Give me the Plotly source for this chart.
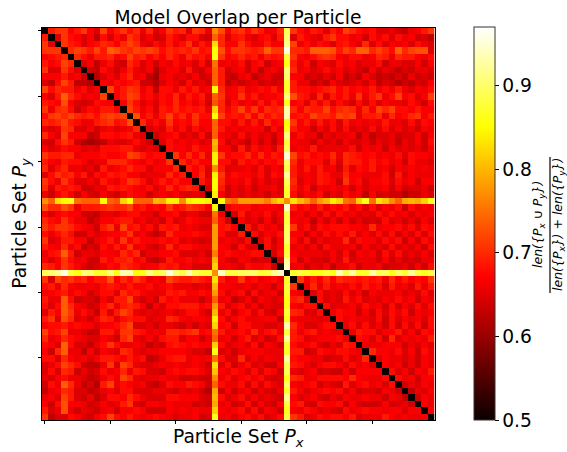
import numpy as np
import plotly.graph_objects as go

W, H = 567, 452
N_PARTICLES = 60
DIAGONAL = 0.5
Z_MIN, Z_MAX = 0.5, 0.97
TICK_POSITIONS = [0, 10, 20, 30, 40, 50]
CBAR_TICKS = [0.5, 0.6, 0.7, 0.8, 0.9]
READ_CALIBRATION = 0.008  # my hundredths for the red background were read a shade too low
CALIBRATION_BELOW = 0.74

# Upper triangle of the symmetric overlap matrix, in hundredths (row i, columns i+1..59)
upper_rows = [
 [68,70,70,66,68,70,66,64,71, 66,68,70,67,69,65,69,64,66,70, 68,69,64,70,69,65,77,72,66,69, 70,67,70,68,65,66,69,89,70,67, 65,68,67,64,68,66,71,69,67,66, 67,64,64,65,63,62,65,66,68,70],
 [64,70,67,66,64,66,62,67, 64,67,65,70,68,64,66,63,64,68, 66,64,67,67,64,63,74,69,64,67, 68,65,64,66,67,64,68,90,64,68, 66,65,64,68,70,67,67,65,66,63, 67,65,67,64,67,65,66,63,64,62],
 [70,68,67,64,66,67,69, 68,66,69,71,69,65,64,67,65,68, 65,67,70,65,68,66,83,69,66,66, 70,67,65,65,68,66,66,92,71,65, 67,65,67,66,64,67,68,66,64,69, 64,67,64,66,65,66,64,67,65,64],
 [69,71,70,68,71,68, 73,72,70,69,71,70,71,70,67,69, 68,69,68,70,67,68,85,72,67,70, 70,69,68,69,73,70,70,96,69,69, 68,73,73,73,72,68,71,69,74,73, 69,71,69,67,74,69,71,72,72,64],
 [69,67,65,68,68, 69,66,67,71,68,69,66,68,66,69, 67,65,69,67,68,66,86,70,66,67, 69,67,68,65,68,67,68,88,70,66, 65,67,69,70,69,66,65,67,67,65, 66,69,68,65,69,68,68,66,65,67],
 [64,66,62,65, 67,64,63,69,67,64,66,63,66,65, 67,65,66,64,67,63,75,65,66,65, 67,63,66,67,63,65,66,86,68,65, 67,63,66,65,64,67,65,66,64,65, 65,67,63,65,65,64,64,66,63,66],
 [63,62,67, 65,63,65,68,65,64,66,61,64,66, 66,64,68,64,63,66,74,68,63,65, 66,63,66,62,65,66,64,91,69,65, 66,64,65,67,65,66,64,65,64,62, 66,63,65,64,62,64,63,65,65,64],
 [61,64, 66,64,67,69,65,66,62,60,65,66, 64,65,64,66,63,64,73,68,63,62, 65,66,62,64,65,63,63,90,66,66, 63,64,63,65,63,66,62,64,62,66, 64,62,63,62,64,62,65,63,64,63],
 [66, 65,67,66,67,68,63,63,61,64,66, 65,63,67,64,65,63,74,68,62,64, 63,64,65,63,64,63,64,87,68,65, 65,62,64,62,66,64,63,64,65,63, 66,62,64,63,61,63,62,64,63,66],
 [71,66,68,70,69,65,67,62,67,67, 65,68,66,68,65,66,85,69,65,66, 68,65,66,67,66,68,65,87,68,67, 67,66,67,68,69,66,68,66,67,66, 68,65,67,65,68,65,64,66,65,67],
 [66,68,71,70,66,67,65,67,66, 69,65,68,66,68,64,73,70,65,66, 70,66,68,65,66,66,67,91,72,68, 67,64,69,64,68,66,68,65,70,65, 68,70,65,67,71,66,67,64,66,71],
 [66,70,67,64,66,64,67,66, 69,66,67,65,67,63,72,69,64,67, 65,66,65,68,65,68,66,86,66,67, 64,68,65,68,64,67,65,63,67,64, 67,64,66,65,65,64,67,65,63,67],
 [71,68,65,67,64,68,67, 69,67,68,67,68,65,82,69,66,68, 71,67,70,66,69,68,69,93,69,66, 69,68,68,71,67,69,70,69,65,69, 66,71,69,71,67,67,66,68,66,66],
 [72,66,68,65,68,71, 67,69,66,70,67,67,85,71,67,68, 67,70,66,70,67,69,68,93,67,68, 67,71,69,69,68,71,70,71,65,68, 68,69,65,69,66,67,69,70,66,68],
 [69,65,67,65,70, 66,67,66,69,66,66,74,67,67,65, 68,65,68,65,69,66,67,85,70,66, 68,65,68,65,67,64,68,65,66,65, 66,65,68,65,65,64,67,64,67,66],
 [64,65,64,68, 65,67,64,67,65,66,74,68,65,66, 65,66,66,66,63,67,65,86,68,66, 66,63,66,64,67,64,67,64,65,64, 67,64,67,64,66,64,65,63,66,65],
 [63,65,66, 67,64,65,64,67,63,73,66,65,64, 67,64,66,64,65,63,66,91,65,67, 65,65,62,65,64,65,65,66,62,65, 62,64,64,65,63,64,64,66,63,66],
 [64,67, 65,66,65,66,64,65,80,67,63,65, 64,62,66,63,65,62,66,88,66,65, 65,63,66,64,65,63,66,64,64,65, 63,65,64,65,62,65,64,66,63,67],
 [67, 66,66,65,68,66,66,79,66,66,63, 68,64,67,65,66,64,68,89,65,66, 65,68,64,65,65,65,65,67,63,66, 65,66,63,66,64,65,64,65,63,66],
 [70,66,69,66,69,65,84,70,66,67, 67,69,66,69,66,68,67,95,71,67, 68,66,67,66,69,65,69,68,67,66, 67,65,66,65,67,64,67,66,66,65],
 [69,66,68,66,66,84,67,67,64, 68,66,67,65,67,66,68,90,69,65, 67,67,67,64,68,64,69,68,68,66, 68,66,67,65,66,63,67,65,65,64],
 [68,66,68,64,77,68,64,65, 65,66,64,67,64,66,65,88,68,65, 68,65,68,65,66,63,68,64,67,66, 68,65,66,63,66,65,66,65,66,65],
 [66,69,64,84,70,65,67, 66,66,65,67,64,67,66,93,68,65, 66,65,68,67,65,65,69,66,66,65, 65,65,67,63,68,64,66,65,65,65],
 [68,65,85,69,65,66, 65,67,64,66,64,65,64,89,69,64, 66,65,68,67,66,63,70,66,67,64, 66,66,67,64,67,65,66,63,66,66],
 [64,85,68,63,65, 64,66,63,65,65,66,64,87,68,65, 67,63,66,65,66,65,66,63,66,64, 65,65,66,63,66,63,64,64,65,63],
 [84,66,63,65, 64,65,64,65,63,65,64,87,67,64, 66,65,67,63,65,64,67,65,66,62, 66,63,64,63,63,61,63,63,65,64],
 [85,75,73, 78,78,78,78,76,80,82,77,83,80, 78,74,78,80,84,82,75,74,82,86, 75,83,81,77,74,79,80,79,82,86],
 [65,67, 67,67,65,66,66,66,65,94,68,66, 67,65,68,65,67,66,68,65,67,64, 67,64,66,65,67,63,67,65,66,65],
 [63, 68,64,66,65,67,64,66,88,65,66, 64,66,64,67,64,67,65,66,64,65, 64,67,65,67,65,66,64,66,65,66],
 [66,64,65,63,66,63,65,88,66,65, 66,62,66,63,66,63,66,63,65,63, 64,63,67,64,65,63,65,63,66,64],
 [68,64,67,65,66,64,89,70,65, 67,64,67,66,67,67,67,66,66,65, 69,65,66,66,67,65,67,64,67,66],
 [67,64,66,65,67,90,66,66, 63,66,64,67,65,67,65,68,64,66, 64,67,64,67,63,66,64,67,64,67],
 [64,67,63,66,90,67,64, 67,63,66,64,65,65,69,64,67,66, 66,64,67,65,67,63,66,63,67,65],
 [67,64,66,87,65,66, 64,66,63,67,65,65,65,66,63,66, 64,65,64,67,64,65,64,66,63,67],
 [64,67,88,66,65, 65,65,65,64,66,64,67,63,66,65, 66,63,67,64,67,64,65,64,66,64],
 [63,92,67,63, 66,64,64,63,66,64,68,64,65,65, 65,63,66,63,65,63,64,63,65,65],
 [94,65,66, 63,65,64,66,62,65,65,67,63,65, 65,66,63,64,64,65,63,66,63,67],
 [87,88, 87,86,86,88,86,93,88,93,87,87, 93,89,89,86,90,87,92,88,86,88],
 [70, 66,68,66,69,66,69,68,68,67,68, 67,68,65,69,66,68,66,67,66,70],
 [65,69,65,68,65,66,65,67,65,68, 66,67,64,68,65,66,64,68,65,68],
 [64,67,64,65,64,67,64,66,63, 66,65,65,65,66,64,65,64,67,64],
 [67,64,65,64,68,65,67,64, 65,64,66,65,67,65,66,63,66,65],
 [67,64,65,65,66,64,67, 65,66,63,67,63,66,64,67,64,67],
 [65,67,66,66,63,66, 63,67,64,67,65,67,63,66,65,66],
 [67,65,66,65,65, 64,67,63,67,64,66,65,66,64,67],
 [65,67,64,67, 64,66,63,67,63,67,64,67,63,67],
 [65,68,67, 67,64,66,66,68,64,66,63,67,66],
 [67,66, 64,67,63,69,64,66,65,66,65,68],
 [65, 65,65,66,66,66,63,65,64,66,64],
 [69,66,66,65,67,64,66,63,67,65],
 [64,66,65,65,64,65,63,66,65],
 [66,65,66,63,65,63,66,65],
 [67,64,66,63,66,65,68],
 [67,65,66,63,66,66],
 [63,65,64,66,65],
 [62,65,64,66],
 [63,66,65],
 [66,65],
 [66],
]

overlap = np.full((N_PARTICLES, N_PARTICLES), DIAGONAL)
for i, row in enumerate(upper_rows):
    if len(row) != N_PARTICLES - 1 - i:
        print("row", i, "has", len(row), "expected", N_PARTICLES - 1 - i)
    for k, v in enumerate(row):
        j = i + 1 + k
        if j < N_PARTICLES:
            val = v / 100
            if val < CALIBRATION_BELOW:
                val += READ_CALIBRATION
            overlap[i, j] = overlap[j, i] = val

hot = [[0.0, "rgb(11,0,0)"], [0.365079, "rgb(255,0,0)"],
       [0.746032, "rgb(255,255,0)"], [1.0, "rgb(255,255,255)"]]

L, R, T, B = 41.5, 434.5, 27.5, 420.0
FONT = "DejaVu Sans"
SIZE = 18.67

fig = go.Figure(go.Heatmap(
    z=overlap, zmin=Z_MIN, zmax=Z_MAX, colorscale=hot, xgap=0, ygap=0,
    colorbar=dict(
        x=474 / W, xanchor="left", xref="paper", thickness=21, thicknessmode="pixels",
        y=1 - B / H, yanchor="bottom", yref="paper", len=(B - T) / H, lenmode="fraction",
        xpad=0, ypad=0, outlinewidth=1, outlinecolor="#333",
        tickvals=CBAR_TICKS, ticktext=[f"{v:.1f}" for v in CBAR_TICKS],
        ticks="outside", ticklen=3.5, tickwidth=1, tickcolor="black",
        tickfont=dict(size=SIZE, color="black", family=FONT),
    ),
))

fig.update_layout(
    width=W, height=H, margin=dict(l=0, r=0, t=0, b=0, autoexpand=False),
    paper_bgcolor="white", plot_bgcolor="white",
    font=dict(family=FONT, color="black"),
    title=dict(text="Model Overlap per Particle", x=(L + R) / 2 / W, xanchor="center",
               y=1 - 17 / H, yanchor="middle", font=dict(size=SIZE, color="black", family=FONT)),
    xaxis=dict(domain=[L / W, R / W], range=[-0.5, N_PARTICLES - 0.5], tickvals=TICK_POSITIONS,
               showticklabels=False, ticks="outside", ticklen=3, tickwidth=1, tickcolor="black",
               showline=True, linecolor="black", linewidth=1, mirror=True, showgrid=False, zeroline=False),
    yaxis=dict(domain=[1 - B / H, 1 - T / H], range=[N_PARTICLES - 0.5, -0.5], tickvals=TICK_POSITIONS,
               showticklabels=False, ticks="outside", ticklen=3, tickwidth=1, tickcolor="black",
               showline=True, linecolor="black", linewidth=1, mirror=True, showgrid=False, zeroline=False),
    annotations=[
        dict(text="Particle Set <i>P<sub>x</sub></i>", xref="paper", yref="paper", x=(L + R) / 2 / W,
             y=1 - 438 / H, xanchor="center", yanchor="middle", showarrow=False,
             font=dict(size=SIZE, color="black", family=FONT)),
        dict(text="Particle Set <i>P<sub>y</sub></i>", xref="paper", yref="paper", x=21 / W,
             y=1 - (T + B) / 2 / H, xanchor="center", yanchor="middle", textangle=-90, showarrow=False,
             font=dict(size=SIZE, color="black", family=FONT)),
        dict(text="<i>len({P<sub>x</sub> ∪ P<sub>y</sub>})</i>", xref="paper", yref="paper", x=539 / W,
             y=1 - 225 / H, xanchor="center", yanchor="middle", textangle=-90, showarrow=False,
             font=dict(size=12.5, color="black", family=FONT)),
        dict(text="<i>len({P<sub>x</sub>}) + len({P<sub>y</sub>})</i>", xref="paper", yref="paper", x=559 / W,
             y=1 - 225 / H, xanchor="center", yanchor="middle", textangle=-90, showarrow=False,
             font=dict(size=12.5, color="black", family=FONT)),
    ],
    shapes=[dict(type="line", xref="paper", yref="paper", x0=550 / W, x1=550 / W,
                 y0=1 - 157 / H, y1=1 - 293 / H, line=dict(color="black", width=1.2))],
)
fig.write_html("out.html", config={"displayModeBar": False},
               post_script="document.body.style.margin='0';document.body.style.overflow='hidden';")
